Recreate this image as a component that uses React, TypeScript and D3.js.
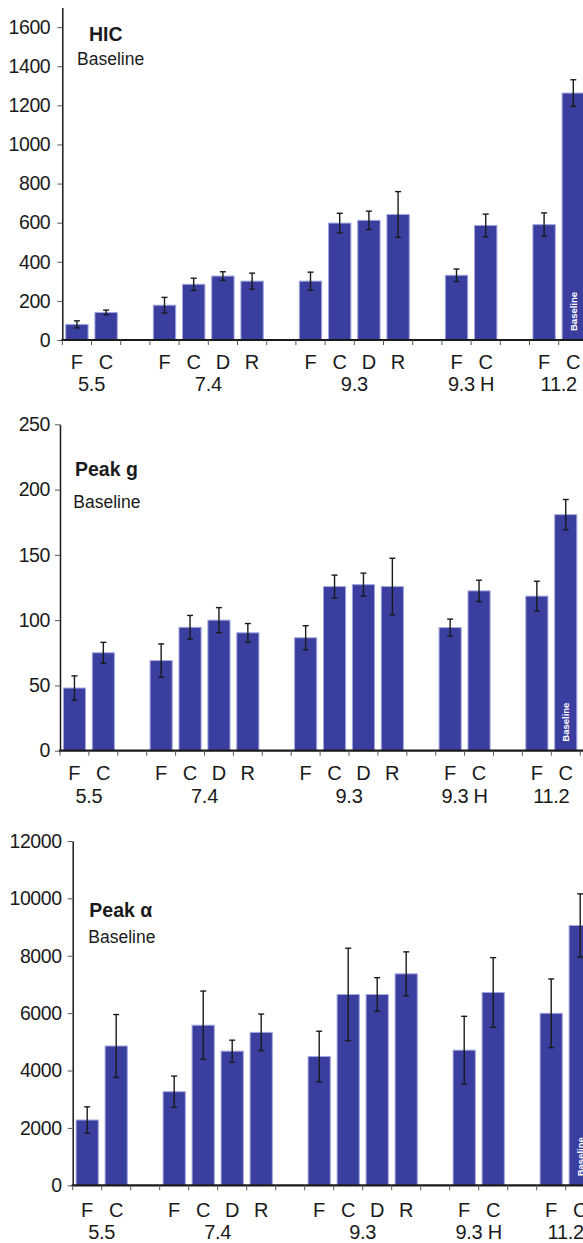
import React, { useEffect, useRef } from 'react';
import * as d3 from 'd3';

// groups and the letters under each group
const groups = ['5.5', '7.4', '9.3', '9.3 H', '11.2'];
const groupLetters = [['F', 'C'], ['F', 'C', 'D', 'R'], ['F', 'C', 'D', 'R'], ['F', 'C'], ['F', 'C']];

// HIC
const hicMeans = [80, 141, 178, 285, 327, 301, 301, 598, 612, 642, 331, 586, 590, 1263];
const hicErrors = [18, 12, 40, 31, 22, 41, 46, 50, 47, 117, 32, 58, 60, 68];
const hicTicks = [0, 200, 400, 600, 800, 1000, 1200, 1400, 1600];

// Peak g
const peakGMeans = [48, 75, 69, 94.5, 100, 90.3, 86.5, 125.7, 127.2, 125.7, 94.3, 122.4, 118.4, 180.8];
const peakGErrors = [9.3, 8, 12.8, 9.1, 9.6, 7.1, 9.2, 8.8, 8.8, 21.7, 6.5, 8.2, 11.4, 11.6];
const peakGTicks = [0, 50, 100, 150, 200, 250];

// Peak alpha
const peakAlphaMeans = [2275, 4855, 3262, 5580, 4675, 5330, 4490, 6650, 6650, 7370, 4710, 6720, 5995, 9055];
const peakAlphaErrors = [460, 1097, 545, 1190, 383, 637, 880, 1613, 587, 766, 1180, 1214, 1197, 1103];
const peakAlphaTicks = [0, 2000, 4000, 6000, 8000, 10000, 12000];

const FONT = '"Liberation Sans", Arial, Helvetica, sans-serif';
const BAR = '#393e9f';
const BAR_EDGE = '#a3a7dc';
const INK = '#1a1a1a';

const panels = [
  {
    title: 'HIC', means: hicMeans, errors: hicErrors, ticks: hicTicks, max: 1700,
    x0: 62.3, slot: 29.2, y0: 340, yMax: 7.6,
    titleX: 89, titleY: 40.7, subX: 77, subY: 65, labelDy: 29, groupDy: 51, tickPad: 7,
  },
  {
    title: 'Peak g', means: peakGMeans, errors: peakGErrors, ticks: peakGTicks, max: 250,
    x0: 60, slot: 28.9, y0: 750.7, yMax: 424.3,
    titleX: 75, titleY: 476, subX: 73.3, subY: 508, labelDy: 29.3, groupDy: 52, tickPad: 5,
  },
  {
    title: 'Peak α', means: peakAlphaMeans, errors: peakAlphaErrors, ticks: peakAlphaTicks, max: 12000,
    x0: 72.7, slot: 29.0, y0: 1185.3, yMax: 841,
    titleX: 89.3, titleY: 917, subX: 88.3, subY: 943, labelDy: 31.4, groupDy: 54, tickPad: 6,
  },
];

// build slot list: each group's letters followed by an empty gap slot
const slots: { letter: string; group: number }[] = [];
groupLetters.forEach((letters, g) => {
  letters.forEach(l => slots.push({ letter: l, group: g }));
  if (g < groups.length - 1) slots.push({ letter: '', group: -1 });
});
const nSlots = slots.length + 1;
const barSlots = slots.map((s, i) => i).filter(i => slots[i].letter !== '');

const App = () => {
  const svgRef = useRef<SVGSVGElement>(null);

  useEffect(() => {
    const svg = d3.select(svgRef.current);
    svg.selectAll('*').remove();

    panels.forEach(p => {
      const g = svg.append('g');
      const xEnd = p.x0 + nSlots * p.slot;

      const slotScale = d3.scaleBand<number>()
        .domain(d3.range(nSlots))
        .range([p.x0, xEnd])
        .padding(0);

      const barScale = d3.scaleBand<number>()
        .domain(d3.range(nSlots))
        .range([p.x0, xEnd])
        .paddingInner(0.2)
        .paddingOuter(0.1);

      const y = d3.scaleLinear()
        .domain([0, p.max])
        .range([p.y0, p.yMax]);

      // bars
      g.selectAll('.bar')
        .data(p.means)
        .enter().append('rect')
        .attr('x', (d, i) => barScale(barSlots[i])! + 0.5)
        .attr('width', barScale.bandwidth() - 1)
        .attr('y', d => y(d))
        .attr('height', d => p.y0 - y(d))
        .attr('fill', BAR)
        .attr('stroke', BAR_EDGE)
        .attr('stroke-width', 1);

      // error bars
      const cx = (i: number) => barScale(barSlots[i])! + barScale.bandwidth() / 2;
      const err = g.selectAll('.err')
        .data(p.means.map((m, i) => ({ m, e: p.errors[i], i })))
        .enter().append('g')
        .attr('stroke', INK)
        .attr('stroke-width', 1.4);
      err.append('line')
        .attr('x1', d => cx(d.i)).attr('x2', d => cx(d.i))
        .attr('y1', d => y(d.m - d.e)).attr('y2', d => y(d.m + d.e));
      err.append('line')
        .attr('x1', d => cx(d.i) - 3).attr('x2', d => cx(d.i) + 3)
        .attr('y1', d => y(d.m + d.e)).attr('y2', d => y(d.m + d.e));
      err.append('line')
        .attr('x1', d => cx(d.i) - 3).attr('x2', d => cx(d.i) + 3)
        .attr('y1', d => y(d.m - d.e)).attr('y2', d => y(d.m - d.e));

      // "Baseline" inside the last bar
      const last = p.means.length - 1;
      g.append('text')
        .attr('transform', `translate(${cx(last)}, ${p.y0 - 9}) rotate(-90)`)
        .attr('dominant-baseline', 'central')
        .attr('fill', '#ffffff')
        .attr('font-family', FONT)
        .attr('font-weight', 'bold')
        .attr('font-size', 9.5)
        .text('Baseline');

      // y axis
      const yAxis = d3.axisLeft(y)
        .tickValues(p.ticks)
        .tickFormat(d3.format('d'))
        .tickSize(5)
        .tickSizeOuter(0)
        .tickPadding(p.tickPad);
      const ya = g.append('g')
        .attr('transform', `translate(${p.x0}, 0)`)
        .call(yAxis);
      ya.select('.domain').attr('stroke', INK).attr('stroke-width', 1.5);
      ya.selectAll('.tick line').attr('stroke', '#555').attr('stroke-width', 1);
      ya.selectAll('.tick text')
        .attr('fill', INK)
        .style('font-family', FONT)
        .style('font-size', '19.5px')
        .style('letter-spacing', '-0.4px');

      // x axis line and slot ticks
      g.append('line')
        .attr('x1', p.x0 - 1).attr('x2', xEnd)
        .attr('y1', p.y0).attr('y2', p.y0)
        .attr('stroke', INK).attr('stroke-width', 2.2);
      g.selectAll('.xtick')
        .data(d3.range(nSlots + 1))
        .enter().append('line')
        .attr('x1', k => p.x0 + k * slotScale.step())
        .attr('x2', k => p.x0 + k * slotScale.step())
        .attr('y1', p.y0).attr('y2', p.y0 + 5)
        .attr('stroke', '#555').attr('stroke-width', 1);

      // letter labels
      g.selectAll('.letter')
        .data(barSlots)
        .enter().append('text')
        .attr('x', s => slotScale(s)! + slotScale.bandwidth() / 2)
        .attr('y', p.y0 + p.labelDy)
        .attr('text-anchor', 'middle')
        .attr('fill', INK)
        .attr('font-family', FONT)
        .attr('font-size', 20)
        .text(s => slots[s].letter);

      // group labels
      g.selectAll('.group')
        .data(groups)
        .enter().append('text')
        .attr('x', (d, gi) => {
          const idx = barSlots.filter(s => slots[s].group === gi);
          const a = slotScale(idx[0])!;
          const b = slotScale(idx[idx.length - 1])! + slotScale.bandwidth();
          return (a + b) / 2;
        })
        .attr('y', p.y0 + p.groupDy)
        .attr('text-anchor', 'middle')
        .attr('fill', INK)
        .attr('font-family', FONT)
        .attr('font-size', 20)
        .attr('letter-spacing', '-0.3px')
        .text(d => d);

      // title
      g.append('text')
        .attr('x', p.titleX).attr('y', p.titleY)
        .attr('fill', INK)
        .attr('font-family', FONT)
        .attr('font-weight', 'bold')
        .attr('font-size', 19.5)
        .text(p.title);
      g.append('text')
        .attr('x', p.subX).attr('y', p.subY)
        .attr('fill', INK)
        .attr('font-family', FONT)
        .attr('font-size', 17.5)
        .text('Baseline');
    });
  }, []);

  return (
    <div style={{ position: 'absolute', left: 0, top: 0, width: 583, height: 1243, overflow: 'hidden', background: '#fff' }}>
      <svg ref={svgRef} width={583} height={1243}></svg>
    </div>
  );
};

export default App;
